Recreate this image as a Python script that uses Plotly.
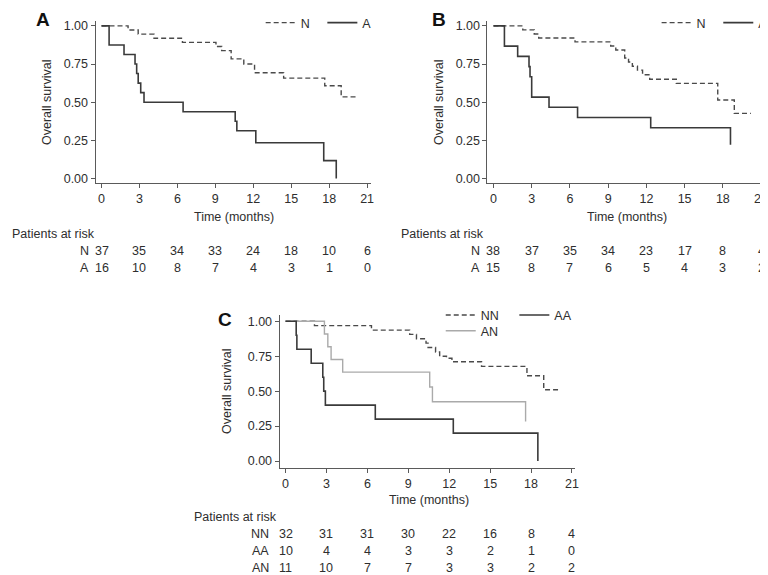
import plotly.graph_objects as go

W, H = 768, 575

# ---------------- data ----------------
month_ticks = [0, 3, 6, 9, 12, 15, 18, 21]
surv_ticks = [0.0, 0.25, 0.5, 0.75, 1.0]
surv_ticklabels = ["0.00", "0.25", "0.50", "0.75", "1.00"]

# Panel A
a_n_time = [0, 2.1, 2.9, 4.15, 6.4, 9.05, 9.5, 10.25, 11.25, 12.1, 14.4, 17.65, 18.95, 20.3]
a_n_surv = [1.0, 0.973, 0.946, 0.919, 0.892, 0.865, 0.838, 0.784, 0.75, 0.693, 0.658, 0.608, 0.535, 0.535]
a_a_time = [0, 0.6, 1.78, 2.65, 2.78, 2.9, 3.1, 3.36, 6.45, 10.57, 10.7, 12.2, 17.57, 18.56]
a_a_surv = [1.0, 0.875, 0.8125, 0.75, 0.6875, 0.625, 0.5625, 0.5, 0.4375, 0.375, 0.3125, 0.234, 0.117, 0.0]
risk_a_n = [37, 35, 34, 33, 24, 18, 10, 6]
risk_a_a = [16, 10, 8, 7, 4, 3, 1, 0]

# Panel B
b_n_time = [0, 2.3, 3.2, 3.55, 6.4, 9.2, 9.6, 10.3, 10.6, 10.9, 11.3, 11.7, 12.26, 14.35, 17.6, 18.9, 20.2]
b_n_surv = [1.0, 0.974, 0.947, 0.921, 0.895, 0.868, 0.842, 0.79, 0.763, 0.735, 0.71, 0.68, 0.65, 0.623, 0.514, 0.427, 0.427]
b_a_time = [0, 0.86, 1.9, 2.79, 2.87, 3.0, 4.36, 6.6, 12.34, 18.6]
b_a_surv = [1.0, 0.867, 0.8, 0.733, 0.667, 0.533, 0.467, 0.4, 0.333, 0.222]
risk_b_n = [38, 37, 35, 34, 23, 17, 8, 4]
risk_b_a = [15, 8, 7, 6, 5, 4, 3, 2]

# Panel C
c_nn_time = [0, 2.12, 6.3, 9.1, 9.6, 10.3, 10.45, 11.0, 11.3, 11.8, 12.2, 14.37, 17.7, 18.93, 20.15]
c_nn_surv = [1.0, 0.969, 0.937, 0.906, 0.875, 0.844, 0.812, 0.78, 0.75, 0.735, 0.71, 0.677, 0.61, 0.51, 0.51]
c_aa_time = [0, 0.78, 0.83, 1.88, 2.73, 2.8, 2.92, 6.58, 12.3, 18.5]
c_aa_surv = [1.0, 0.9, 0.8, 0.7, 0.6, 0.5, 0.4, 0.3, 0.2, 0.0]
c_an_time = [0, 2.85, 3.1, 3.34, 4.19, 10.57, 10.77, 17.6]
c_an_surv = [1.0, 0.909, 0.818, 0.727, 0.636, 0.53, 0.424, 0.283]
risk_c_nn = [32, 31, 31, 30, 22, 16, 8, 4]
risk_c_aa = [10, 4, 4, 3, 3, 2, 1, 0]
risk_c_an = [11, 10, 7, 7, 3, 3, 2, 2]

# ---------------- styles ----------------
FONT = "Liberation Sans, Arial, Helvetica, sans-serif"
TXT = "#2e2e2e"
AX = "#5a5a5a"
FS = 12.5
DASHED = dict(color="#4a4a4a", width=1.4, dash="5px,3px")
SOLID = dict(color="#3a3a3a", width=1.6)
LIGHT = dict(color="#aaaaaa", width=1.4)


def fx(px):
    return px / W


def fy(py):
    return 1 - py / H


fig = go.Figure()


def add_curve(t, s, name, line, xa, ya, legend):
    fig.add_trace(go.Scatter(x=t, y=s, mode="lines", line=line, line_shape="hv",
                             name=name, xaxis=xa, yaxis=ya, legend=legend,
                             hoverinfo="skip"))


add_curve(a_n_time, a_n_surv, "N", DASHED, "x", "y", "legend")
add_curve(a_a_time, a_a_surv, "A", SOLID, "x", "y", "legend5")
add_curve(b_n_time, b_n_surv, "N", DASHED, "x2", "y2", "legend2")
add_curve(b_a_time, b_a_surv, "A", SOLID, "x2", "y2", "legend6")
add_curve(c_nn_time, c_nn_surv, "NN", DASHED, "x3", "y3", "legend3")
add_curve(c_an_time, c_an_surv, "AN", LIGHT, "x3", "y3", "legend4")
add_curve(c_aa_time, c_aa_surv, "AA", SOLID, "x3", "y3", "legend7")

# panel geometry (pixels)
panels = {
    "A": dict(xa="xaxis", ya="yaxis", xref="x", left=88, right=365, t0=94, ppm=12.714,
              top=10, bottom=174, y1=15, y0=169,
              lab=(35, 9), ytitle=39, time_y=208, par=(2, 225),
              rows=[("N", risk_a_n, 242), ("A", risk_a_a, 259)], lshift=-11),
    "B": dict(xa="xaxis2", ya="yaxis2", xref="x2", left=482, right=761, t0=488, ppm=12.81,
              top=10, bottom=174, y1=15, y0=169,
              lab=(433, 9), ytitle=433, time_y=208, par=(393, 225),
              rows=[("N", risk_b_n, 242), ("A", risk_b_a, 259)], lshift=-11),
    "C": dict(xa="xaxis3", ya="yaxis3", xref="x3", left=273, right=570, t0=279, ppm=13.71,
              top=307, bottom=461, y1=313, y0=454,
              lab=(218, 311), ytitle=220, time_y=493, par=(185, 510),
              rows=[("NN", risk_c_nn, 528), ("AA", risk_c_aa, 545), ("AN", risk_c_an, 562)],
              lshift=-15),
}


def ann(**kw):
    base = dict(showarrow=False, xanchor="center", yanchor="middle",
                font=dict(size=FS, color=TXT, family=FONT))
    base.update(kw)
    return base


annotations = []
for key, p in panels.items():
    ppm = p["ppm"]
    xr = [(p["left"] - p["t0"]) / ppm, (p["right"] - p["t0"]) / ppm]
    pps = p["y0"] - p["y1"]
    yr = [-(p["bottom"] - p["y0"]) / pps, 1 + (p["y1"] - p["top"]) / pps]
    fig.layout[p["xa"]] = dict(domain=[fx(p["left"]), fx(p["right"])], range=xr,
                               anchor=p["ya"].replace("axis", ""),
                               tickmode="array", tickvals=month_ticks, ticks="outside",
                               ticklen=4, tickcolor=AX, showline=True, linecolor=AX,
                               linewidth=1, showgrid=False, zeroline=False,
                               tickfont=dict(size=FS, color=TXT, family=FONT))
    fig.layout[p["ya"]] = dict(domain=[fy(p["bottom"]), fy(p["top"])], range=yr,
                               anchor=p["xa"].replace("axis", ""),
                               tickmode="array", tickvals=surv_ticks,
                               ticktext=surv_ticklabels, ticks="outside",
                               ticklen=4, tickcolor=AX, showline=True, linecolor=AX,
                               linewidth=1, showgrid=False, zeroline=False,
                               tickfont=dict(size=FS, color=TXT, family=FONT))
    annotations.append(ann(text="<b>%s</b>" % key, x=fx(p["lab"][0]), y=fy(p["lab"][1]),
                           xref="paper", yref="paper",
                           font=dict(size=19, color="#111", family=FONT)))
    annotations.append(ann(text="Overall survival", x=fx(p["ytitle"]),
                           y=fy((p["y0"] + p["y1"]) / 2), xref="paper", yref="paper",
                           textangle=-90))
    annotations.append(ann(text="Time (months)", x=10.5, xref=p["xref"],
                           y=fy(p["time_y"]), yref="paper"))
    annotations.append(ann(text="Patients at risk", x=fx(p["par"][0]), y=fy(p["par"][1]),
                           xref="paper", yref="paper", xanchor="left"))
    for label, vals, ry in p["rows"]:
        annotations.append(ann(text=label, x=0, xref=p["xref"], y=fy(ry), yref="paper",
                               xanchor="right", xshift=p["lshift"]))
        for t, v in zip(month_ticks, vals):
            annotations.append(ann(text=str(v), x=t, xref=p["xref"], y=fy(ry),
                                   yref="paper"))

leg_common = dict(orientation="h", bgcolor="rgba(0,0,0,0)", borderwidth=0,
                  font=dict(size=FS, color=TXT, family=FONT), xanchor="left",
                  yanchor="middle")

fig.update_layout(
    width=W, height=H, margin=dict(l=0, r=0, t=0, b=0),
    paper_bgcolor="white", plot_bgcolor="white",
    font=dict(family=FONT, color=TXT, size=FS),
    annotations=annotations,
    legend=dict(**leg_common, x=fx(254), y=fy(12)),
    legend5=dict(**leg_common, x=fx(316), y=fy(12)),
    legend2=dict(**leg_common, x=fx(652), y=fy(12)),
    legend6=dict(**leg_common, x=fx(714), y=fy(12)),
    legend3=dict(**leg_common, x=fx(435), y=fy(307)),
    legend7=dict(**leg_common, x=fx(509), y=fy(307)),
    legend4=dict(**leg_common, x=fx(435), y=fy(323)),
    showlegend=True,
)

fig.write_html("out.html")
